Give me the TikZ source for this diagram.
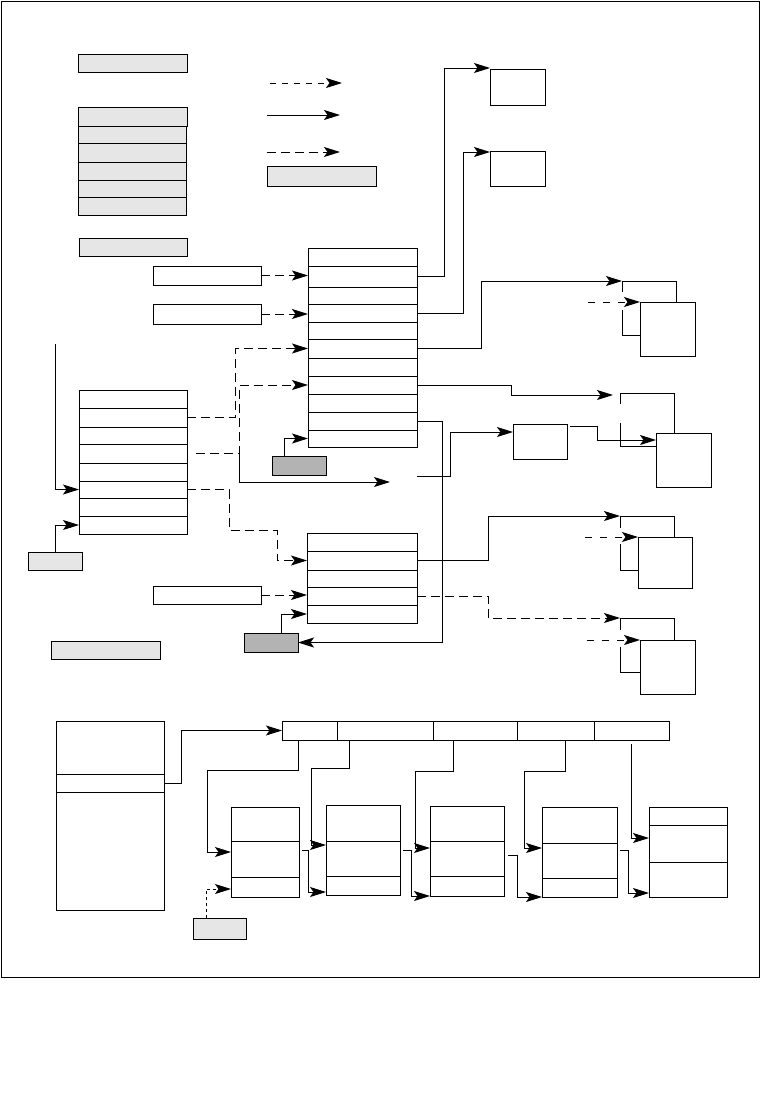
\documentclass[tikz,border=0pt]{standalone}
\usetikzlibrary{arrows.meta,calc}
\definecolor{lg}{HTML}{E6E6E6}
\definecolor{dg}{HTML}{B3B3B3}
\tikzset{
  box/.style={draw, inner sep=0pt, outer sep=0pt, fill=white},
  nobox/.style={inner sep=0pt, outer sep=0pt},
  gbox/.style={box, fill=lg},
  dbox/.style={box, fill=dg},
  arr/.style={-{Stealth[length=16pt,width=10pt,inset=3.5pt]}},
  dsh/.style={dash pattern=on 9pt off 5pt},
  dshsmall/.style={dash pattern=on 7pt off 8pt},
  dotsh/.style={dash pattern=on 6pt off 6pt},
  fine/.style={dash pattern=on 3pt off 3pt}
}
\newcommand{\mybox}[6]{\node[#1,minimum width={(#4-#2)*1pt},minimum height={(#5-#3)*1pt}] (#6) at ({(#2+#4)/2},{(#3+#5)/2}) {};}
\newcommand{\backbox}[3]{\draw ([yshift=-#2pt]#1.north west) -- (#1.north west) -- (#1.north east) -- (#1.south east) -- (#1.south west) -- ([yshift=-#3pt]#1.north west);}
\begin{document}
\begin{tikzpicture}[x=1pt,y=-1pt,line width=0.9pt]
\useasboundingbox (0,0) rectangle (760,1114);
\draw[line width=1pt] (1,1) rectangle (759,977);

% ---------- legend ----------
\mybox{gbox}{78}{54}{187}{72}{lgA}
\mybox{gbox}{78}{107}{187}{126}{lgS0}
\foreach \a/\b [count=\i] in {126/143,143/162,162/180,180/197,197/215} {\mybox{gbox}{78}{\a}{186}{\b}{lgS\i}}
\mybox{gbox}{79}{238}{187}{256}{lgB}
\coordinate (la1) at (270,83); \coordinate (lb1) at (342,83);
\coordinate (la2) at (267,115); \coordinate (lb2) at (340,115);
\coordinate (la3) at (267,152); \coordinate (lb3) at (340,152);
\draw[arr,dotsh] (la1) -- (lb1);
\draw[arr] (la2) -- (lb2);
\draw[arr,dsh] (la3) -- (lb3);
\mybox{gbox}{267}{166}{376}{186}{lgC}

% ---------- top right boxes ----------
\mybox{box}{490}{69}{545}{105}{B1}
\mybox{box}{490}{151}{545}{186}{B2}

% ---------- white boxes ----------
\mybox{box}{153}{266}{261}{285}{W1}
\mybox{box}{153}{304}{261}{324}{W2}
\mybox{box}{153}{586}{261}{604}{W3}

% ---------- main stack ----------
\foreach \a/\b [count=\i] in {248/266,266/287,287/304,304/322,322/339,339/358,358/376,376/394,394/412,412/430,430/447} {\mybox{box}{308}{\a}{417}{\b}{M\i}}

% ---------- left stack ----------
\foreach \a/\b [count=\i] in {390/408,408/427,427/444,444/463,463/481,481/498,498/516,516/534} {\mybox{box}{79}{\a}{187}{\b}{S\i}}

% ---------- lower stack ----------
\foreach \a/\b [count=\i] in {533/551,551/570,570/587,587/605,605/623} {\mybox{box}{307}{\a}{417}{\b}{N\i}}

% ---------- small boxes ----------
\mybox{gbox}{28}{552}{82}{570}{C}
\mybox{dbox}{272}{456}{326}{475}{D}
\mybox{dbox}{244}{633}{298}{652}{G}
\mybox{gbox}{51}{641}{160}{659}{H}
\mybox{box}{513}{424}{567}{459}{F}

% ---------- stacked pairs ----------
\mybox{nobox}{622}{281}{676}{335}{E1b}
\mybox{nobox}{620}{393}{674}{446}{E2b}
\mybox{nobox}{620}{516}{674}{570}{E3b}
\mybox{nobox}{620}{618}{674}{672}{E4b}
\backbox{E1b}{11}{29}
\backbox{E2b}{11}{30}
\backbox{E3b}{12}{28}
\backbox{E4b}{12}{29}
\mybox{box}{640}{302}{695}{356}{E1f}
\mybox{box}{656}{433}{711}{487}{E2f}
\mybox{box}{638}{537}{692}{588}{E3f}
\mybox{box}{640}{640}{695}{694}{E4f}

% ---------- connectors (upper part) ----------
\draw[arr,dsh] (W1.east) -- (W1.east -| M2.west);
\draw[arr,dsh] (W2.east) -- (W2.east -| M4.west);
\draw[arr,dsh] (W3.east) -- (W3.east -| N4.west);
\draw[arr,dsh] (S2.east) -| ([xshift=-73pt]M6.west) -- (M6.west);
\draw[arr,dsh] ([xshift=9pt]S4.east) -| ([xshift=-69pt]M8.west) -- (M8.west);
\coordinate (jn) at (239,454);
\coordinate (fe) at (390,482);
\draw[arr] (jn) |- (fe);
\draw[arr,dsh] (S6.east) -| (229,530) -| ([xshift=-30pt]N2.west) -- (N2.west);
\coordinate (vs) at (55,344);
\draw[arr] (vs) |- (S6.west);
\draw[arr] (C.north) |- (S8.west);
\draw[arr] ([xshift=-15pt]D.north) |- (M11.west);
\draw[arr] ([xshift=10pt]G.north) |- (N5.west);
\draw[arr] (M10.east) -| ([xshift=144pt]G.east) -- (G.east);
\draw[arr] (M2.east) -| ([xshift=-46pt,yshift=1pt]B1.north west) -- ([yshift=1pt]B1.north west);
\draw[arr] (M4.east) -| ([xshift=-27pt,yshift=-1pt]B2.north west) -- ([yshift=-1pt]B2.north west);
\draw[arr] (M6.east) -| ([xshift=-141pt]E1b.north west) -- (E1b.north west);
\draw[arr] (M8.east) -| ([xshift=-109pt,yshift=-2pt]E2b.north west) -- ([xshift=-7pt,yshift=-2pt]E2b.north west);
\coordinate (fs) at (417,476);
\draw[arr] (fs) -| ([xshift=-63pt,yshift=9.5pt]F.west) -- ([yshift=9.5pt]F.west);
\draw[arr] ([xshift=3pt,yshift=-2pt]F.north east) -| ([xshift=-59pt,yshift=-7pt]E2f.north west) -- ([yshift=-7pt]E2f.north west);
\draw[arr] (N2.east) -| ([xshift=-132pt]E3b.north west) -- (E3b.north west);
\draw[arr,dsh] (N4.east) -| ([xshift=-132pt]E4b.north west) -- (E4b.north west);
\draw[arr,dshsmall] ([xshift=-52pt]E1f.north west) -- (E1f.north west);
\draw[arr,dshsmall] ([xshift=-53pt]E3f.north west) -- (E3f.north west);
\draw[arr,dshsmall] ([xshift=-53pt]E4f.north west) -- (E4f.north west);

% ---------- bottom part ----------
\mybox{box}{56}{721}{164}{910}{Ibig}
\mybox{box}{56}{774}{164}{792}{Irow}
\foreach \a/\b [count=\i] in {282/337,337/433,433/517,517/594,594/669} {\mybox{box}{\a}{721}{\b}{740}{J\i}}
\mybox{box}{231}{807}{299}{897}{K1}
\mybox{box}{326}{805}{400}{895}{K2}
\mybox{box}{430}{806}{504}{896}{K3}
\mybox{box}{542}{807}{617}{897}{K4}
\mybox{box}{649}{807}{727}{897}{K5}
\foreach \k/\p/\q in {K1/841/877,K2/841/876,K3/841/876,K4/843/878,K5/825/862} {
  \draw (\k.west |- 0,\p) -- (\k.east |- 0,\p);
  \draw (\k.west |- 0,\q) -- (\k.east |- 0,\q);
}
\mybox{gbox}{193}{918}{246}{939}{Lb}

\draw[arr] (Irow.east) -| ([xshift=-101pt]J1.west) -- (J1.west);
\draw[arr] (298,0 |- J1.south) |- (207,770) |- (K1.west);
\draw[arr] (349,0 |- J2.south) |- (311,768) |- ([yshift=5pt]K2.west);
\draw[arr] (453,0 |- J3.south) |- (415,771) |- ([yshift=3pt]K3.west);
\draw[arr] (565,0 |- J4.south) |- (524,771) |- ([yshift=4pt]K4.west);
\coordinate (j5s) at (631,744);
\draw[arr] (j5s) |- ([yshift=14pt]K5.west);
\draw[arr] ([xshift=3pt,yshift=2pt]K1.east) -| ([xshift=-18pt,yshift=3pt]K2.south west) -- ([yshift=3pt]K2.south west);
\draw[arr] ([xshift=3pt]K2.east) -| ([xshift=-19pt]K3.south west) -- (K3.south west);
\draw[arr] ([xshift=4pt,yshift=-4pt]K3.east) -| ([xshift=-25pt]K4.south west) -- (K4.south west);
\draw[arr] ([xshift=3pt,yshift=2pt]K4.east) -| ([xshift=-21pt,yshift=4pt]K5.south west) -- ([yshift=4pt]K5.south west);
\draw[arr,fine] ([xshift=-13.5pt]Lb.north) |- ([yshift=-37pt]K1.west);
\end{tikzpicture}
\end{document}
